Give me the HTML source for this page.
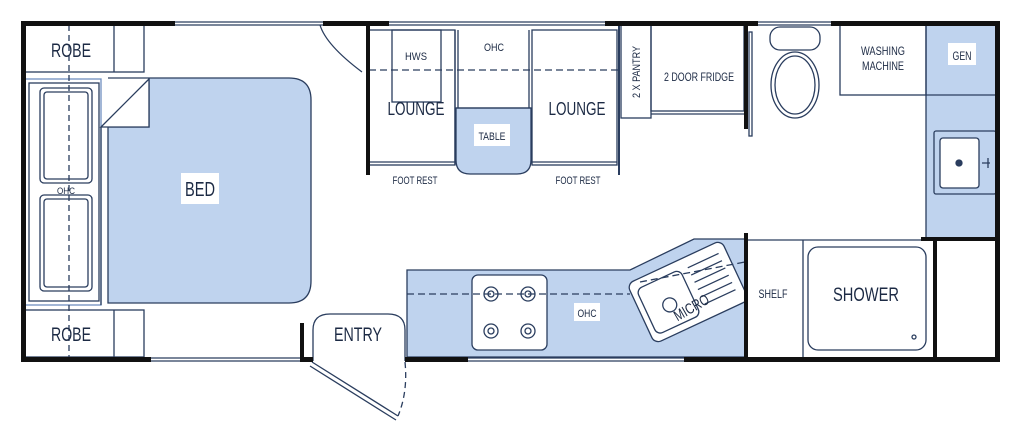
<!DOCTYPE html>
<html><head><meta charset="utf-8"><style>
html,body{margin:0;padding:0;background:#fff;width:1024px;height:433px;overflow:hidden}
svg{display:block}
text{font-family:"Liberation Sans",sans-serif;fill:#1c2a44}
</style></head><body>
<svg width="1024" height="433" viewBox="0 0 1024 433" xmlns="http://www.w3.org/2000/svg">
<g fill="none" stroke="#2a3d5e" stroke-width="1.3">
<path d="M108 78 H289 Q311 78 311 100 V281 Q311 303 289 303 H108 V127 H149 V78 Z" fill="#bfd3ee"/>
<path d="M456 108 H531 V160 Q531 174 517 174 H470 Q456 174 456 160 Z" fill="#bfd3ee"/>
<path d="M407 270 H630 L694 239 H745 V357 H407 Z" fill="#bfd3ee"/>
<rect x="926" y="25" width="70" height="213" fill="#bfd3ee"/>
<rect x="25" y="25" width="119" height="47"/><line x1="114" y1="25" x2="114" y2="72"/>
<rect x="25" y="310" width="119" height="47"/><line x1="114" y1="310" x2="114" y2="357"/>
<rect x="25" y="79" width="76" height="226" stroke="#6f8fbf"/>
<rect x="29" y="83" width="70" height="218"/>
<line x1="101" y1="127" x2="101" y2="305"/>
<path d="M101 127 L149 79 V127 Z" fill="#fff"/>
<rect x="40" y="88" width="52" height="95" rx="4"/><rect x="44" y="92" width="44" height="87" rx="3"/>
<rect x="40" y="195" width="52" height="96" rx="4"/><rect x="44" y="199" width="44" height="88" rx="3"/>
<line x1="69" y1="25" x2="69" y2="357" stroke-dasharray="6 4"/>
<rect x="369" y="30" width="86" height="135"/>
<rect x="392" y="30" width="49" height="72"/>
<line x1="455" y1="30" x2="455" y2="165"/><line x1="458" y1="30" x2="458" y2="108"/>
<line x1="456" y1="108" x2="531" y2="108"/>
<rect x="532" y="30" width="85" height="135"/>
<line x1="529" y1="30" x2="529" y2="108"/>
<line x1="369" y1="162" x2="455" y2="162"/><line x1="532" y1="162" x2="617" y2="162"/>
<line x1="619" y1="25" x2="619" y2="175" stroke-width="2"/>
<line x1="369" y1="70" x2="621" y2="70" stroke-dasharray="7 4"/>
<rect x="621" y="25" width="30" height="93"/>
<rect x="651" y="25" width="93" height="86"/><line x1="651" y1="114" x2="744" y2="114"/>
<rect x="749" y="32" width="3" height="104"/>
<rect x="770" y="27" width="50" height="23" rx="10"/>
<ellipse cx="795" cy="85" rx="24" ry="33"/><ellipse cx="795" cy="85" rx="20" ry="29"/>
<rect x="840" y="25" width="86" height="70"/>
<line x1="926" y1="95" x2="996" y2="95"/>
<rect x="934" y="131" width="62" height="63" rx="2"/>
<rect x="940" y="138" width="39" height="50" rx="3" fill="#fff"/>
<circle cx="959" cy="163" r="3" fill="#2a3d5e"/>
<path d="M982 163 H990 M988 158 V168"/>
<line x1="748" y1="240" x2="933" y2="240"/>
<line x1="803" y1="240" x2="803" y2="357"/>
<rect x="808" y="247" width="118" height="103" rx="10"/>
<circle cx="914" cy="337" r="2"/>
<rect x="472" y="275" width="75" height="75" rx="6" fill="#fff"/>
<g fill="#fff"><circle cx="491" cy="294" r="7"/><circle cx="491" cy="294" r="3"/><circle cx="528" cy="294" r="7"/><circle cx="528" cy="294" r="3"/>
<circle cx="491" cy="331" r="7"/><circle cx="491" cy="331" r="3"/><circle cx="528" cy="331" r="7"/><circle cx="528" cy="331" r="3"/></g>
<line x1="407" y1="294" x2="630" y2="294" stroke-dasharray="7 4"/>
<g transform="translate(688,292) rotate(-25)">
<rect x="-52" y="-33" width="104" height="66" rx="7" fill="#fff"/>
<rect x="-46" y="-24" width="48" height="50" rx="6"/>
<circle cx="-22" cy="4" r="7"/>
<path d="M10 -22 H44 M10 -14 H44 M10 -6 H44 M10 2 H44 M10 10 H44 M10 18 H44"/>
</g>
<line x1="640" y1="282" x2="745" y2="262" stroke-dasharray="7 4"/>
<path d="M313 361 V330 Q313 314 330 314 H388 Q405 314 405 330 V361" fill="#fff"/>
<path d="M312 362 L398 416 M310 366 L396 420"/>
<path d="M405 362 Q408 392 398 416" stroke-dasharray="6 4"/>
<path d="M320 25 Q326 45 362 72"/>
<path d="M175 22 H323 M175 25 H323 M389 22 H605 M389 25 H605 M758 22 H831 M758 25 H831 M151 358 H300 M151 361 H300 M468 358 H684 M468 361 H684"/>
</g>
<g fill="#111">
<rect x="21" y="21" width="154" height="5"/><rect x="323" y="21" width="66" height="5"/><rect x="605" y="21" width="153" height="5"/><rect x="831" y="21" width="168" height="5"/>
<rect x="21" y="357" width="130" height="5"/><rect x="300" y="357" width="13" height="5"/><rect x="405" y="357" width="63" height="5"/><rect x="684" y="357" width="315" height="5"/>
<rect x="21" y="21" width="5" height="341"/><rect x="995" y="21" width="5" height="341"/>
<rect x="300" y="323" width="4" height="39"/>
<rect x="366" y="25" width="4" height="150"/>
<rect x="744" y="25" width="4" height="104"/>
<rect x="744" y="233" width="4" height="128"/>
<rect x="921" y="237" width="78" height="4"/>
<rect x="933" y="237" width="4" height="124"/>
</g>
<g fill="#fff"><rect x="181" y="173" width="38" height="31"/><rect x="474" y="124" width="36" height="22"/><rect x="574" y="303" width="26" height="18"/><rect x="948" y="43" width="28" height="22"/></g>
<g text-anchor="middle" lengthAdjust="spacingAndGlyphs">
<text x="71" y="57" font-size="19" textLength="40" lengthAdjust="spacingAndGlyphs">ROBE</text>
<text x="71" y="341" font-size="19" textLength="40" lengthAdjust="spacingAndGlyphs">ROBE</text>
<text x="200" y="196" font-size="20" textLength="30" lengthAdjust="spacingAndGlyphs">BED</text>
<text x="66" y="194" font-size="9" fill="#6f8fbf" textLength="18" lengthAdjust="spacingAndGlyphs">OHC</text>
<text x="416" y="60" font-size="11" textLength="22" lengthAdjust="spacingAndGlyphs">HWS</text>
<text x="494" y="51" font-size="11" textLength="20" lengthAdjust="spacingAndGlyphs">OHC</text>
<text x="416" y="115" font-size="18" textLength="57" lengthAdjust="spacingAndGlyphs">LOUNGE</text>
<text x="577" y="115" font-size="18" textLength="57" lengthAdjust="spacingAndGlyphs">LOUNGE</text>
<text x="492" y="140" font-size="11" textLength="27" lengthAdjust="spacingAndGlyphs">TABLE</text>
<text x="415" y="184" font-size="11" textLength="45" lengthAdjust="spacingAndGlyphs">FOOT REST</text>
<text x="578" y="184" font-size="11" textLength="45" lengthAdjust="spacingAndGlyphs">FOOT REST</text>
<text x="0" y="0" font-size="11" transform="translate(640,72) rotate(-90)" textLength="52" lengthAdjust="spacingAndGlyphs">2 X PANTRY</text>
<text x="699" y="81" font-size="12" textLength="70" lengthAdjust="spacingAndGlyphs">2 DOOR FRIDGE</text>
<text x="883" y="55" font-size="12" textLength="44" lengthAdjust="spacingAndGlyphs">WASHING</text>
<text x="883" y="70" font-size="12" textLength="42" lengthAdjust="spacingAndGlyphs">MACHINE</text>
<text x="962" y="60" font-size="12" textLength="19" lengthAdjust="spacingAndGlyphs">GEN</text>
<text x="587" y="317" font-size="11" textLength="19" lengthAdjust="spacingAndGlyphs">OHC</text>
<text x="0" y="0" font-size="15" transform="translate(694,312) rotate(-30)" textLength="38" lengthAdjust="spacingAndGlyphs">MICRO</text>
<text x="773" y="298" font-size="12" textLength="29" lengthAdjust="spacingAndGlyphs">SHELF</text>
<text x="866" y="301" font-size="19" textLength="66" lengthAdjust="spacingAndGlyphs">SHOWER</text>
<text x="358" y="341" font-size="19" textLength="48" lengthAdjust="spacingAndGlyphs">ENTRY</text>
</g>
</svg>
</body></html>
